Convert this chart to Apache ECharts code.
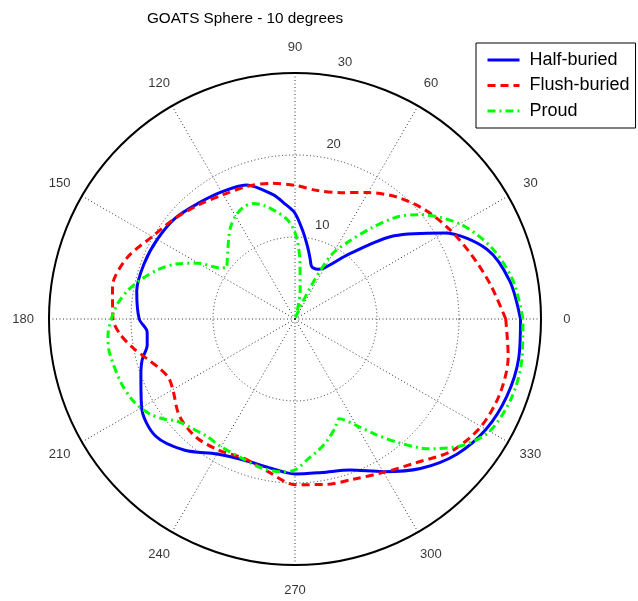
<!DOCTYPE html>
<html>
<head>
<meta charset="utf-8">
<script src="https://cdn.jsdelivr.net/npm/echarts@6/dist/echarts.min.js"></script>
<style>
html,body{margin:0;padding:0;background:#fff;}
#chart{width:638px;height:601px;}
</style>
</head>
<body>
<div id="chart"></div>
<script>
// ---- Data (angle in degrees, radius values) ----
const halfAngles = [0,10,20,30,40,50,60,65,70,73,76,80,85,90,95,100,110,120,130,140,150,160,170,180,185,190,195,200,210,220,230,240,250,260,270,280,290,300,310,320,330,340,350,360];
const halfR      = [27.5,26.6,24.9,21.0,15.8,10.4,7.2,6.7,6.6,6.8,7.6,8.9,10.8,12.9,14.1,15.4,17.4,17.9,18.4,19.1,19.4,19.6,19.6,19.0,18.1,18.3,19.3,20.0,21.6,22.2,20.9,19.0,18.3,18.4,18.9,19.0,19.6,21.5,23.8,25.7,26.9,27.5,27.7,27.5];

const flushAngles = [0,10,20,30,40,50,60,70,80,90,100,110,120,130,140,150,160,170,180,185,190,195,200,205,210,220,230,240,250,260,270,280,290,300,310,320,330,340,350,360];
const flushR      = [25.7,24.2,22.9,21.8,20.7,19.4,17.8,16.4,15.9,16.3,16.8,17.2,17.5,18.2,19.1,20.1,21.8,22.6,22.2,21.4,20.1,18.7,17.6,17.0,17.2,18.4,18.8,18.5,18.1,18.9,20.2,20.5,20.8,21.6,22.9,25.0,26.2,26.6,26.4,25.7];

const proudAngles = [0,10,20,30,40,45,50,55,60,62,64,66,68,71,75,80,85,88,91,95,100,105,110,115,120,125,130,135,140,143,146,150,155,160,165,170,175,180,185,190,200,207,213,217,221,227,233,240,250,257,265,270,276,280,285,290,294,300,305,310,316,323,330,340,350,360];
const proudR      = [27.8,27.0,25.5,23.2,19.8,17.6,14.5,11.6,9.3,7.2,4.4,2.1,0.6,0.0,1.2,3.6,6.9,9.4,11.0,12.3,13.3,14.3,15.0,15.0,14.5,13.7,12.6,11.6,10.8,10.4,11.2,13.6,15.9,17.7,19.2,20.6,21.7,22.4,22.9,23.0,22.6,22.1,21.2,20.2,19.0,18.3,17.9,18.0,18.2,18.6,18.7,18.4,17.0,16.3,15.3,14.2,13.3,15.0,17.2,19.7,22.8,25.6,27.4,28.1,28.1,27.8];

const angleTicks = [0,30,60,90,120,150,180,210,240,270,300,330];
const radiusTicks = [10,20,30];
const titleText = 'GOATS Sphere - 10 degrees';
const seriesNames = ['Half-buried','Flush-buried','Proud'];

// ---- Chart ----
const FONT = "'Liberation Sans', Arial, Helvetica, sans-serif";
const RMAX = 30;
const chart = echarts.init(document.getElementById('chart'), null, {renderer:'canvas'});

const pairs = (angles, rs) => angles.map((a,i) => [rs[i], a]);

const option = {
  animation: false,
  backgroundColor: '#fff',
  title: {
    text: titleText,
    left: 240, top: 6,
    textAlign: 'center',
    textStyle: {fontFamily: FONT, fontSize: 15.3, fontWeight: 'normal', color: '#000'}
  },
  legend: {
    data: seriesNames,
    orient: 'vertical',
    left: 476, top: 43,
    padding: [7, 6, 7, 10],
    itemWidth: 32, itemHeight: 14,
    itemGap: 5.5,
    itemTextGap: 11,
    itemStyle: {color: 'rgba(0,0,0,0)', borderWidth: 0, opacity: 0},
    lineStyle: {width: 3},
    backgroundColor: '#fff',
    borderColor: '#000', borderWidth: 1, borderRadius: 0,
    textStyle: {fontFamily: FONT, fontSize: 18, color: '#000', lineHeight: 20, padding: [0,0,0,5]}
  },
  polar: {center: [295, 319], radius: 246},
  angleAxis: {
    type: 'value', min: 0, max: 360, interval: 30,
    startAngle: 0, clockwise: false,
    axisLine: {show: true, lineStyle: {color: '#000', width: 2}},
    axisTick: {show: false},
    axisLabel: {show: false},
    splitLine: {show: true, lineStyle: {color: '#333', width: 1, type: [1, 2.5]}}
  },
  radiusAxis: {
    type: 'value', min: 0, max: RMAX, interval: 10,
    axisLine: {show: false}, axisTick: {show: false}, axisLabel: {show: false},
    splitLine: {show: true, lineStyle: {color: '#333', width: 1, type: [1, 2.5]}}
  },
  series: [
    {
      name: seriesNames[0], type: 'line', coordinateSystem: 'polar',
      data: pairs(halfAngles, halfR), symbol: 'none', showSymbol: false, smooth: 0.3,
      lineStyle: {color: '#0000ff', width: 3, type: 'solid'}, itemStyle: {color: '#0000ff'}
    },
    {
      name: seriesNames[1], type: 'line', coordinateSystem: 'polar',
      data: pairs(flushAngles, flushR), symbol: 'none', showSymbol: false, smooth: 0.3,
      lineStyle: {color: '#ff0000', width: 3, type: [8, 5]}, itemStyle: {color: '#ff0000'}
    },
    {
      name: seriesNames[2], type: 'line', coordinateSystem: 'polar',
      data: pairs(proudAngles, proudR), symbol: 'none', showSymbol: false, smooth: 0.3,
      lineStyle: {color: '#00ff00', width: 3, type: [8, 4, 2, 4]}, itemStyle: {color: '#00ff00'}
    },
    {
      name: 'angleLabels', type: 'scatter', coordinateSystem: 'polar', clip: false, silent: true,
      data: angleTicks.map(a => [RMAX * 1.105, a]),
      symbolSize: 1, itemStyle: {color: 'rgba(0,0,0,0)'},
      label: {show: true, position: 'inside', formatter: p => String(p.value[1]),
        fontFamily: FONT, fontSize: 13, color: '#000', align: 'center', verticalAlign: 'middle'}
    },
    {
      name: 'radiusLabels', type: 'scatter', coordinateSystem: 'polar', clip: false, silent: true,
      data: radiusTicks.map(r => [r + 0.5, 82]),
      symbolSize: 1, itemStyle: {color: 'rgba(0,0,0,0)'},
      label: {show: true, position: 'inside', offset: [8, -2],
        formatter: p => String(Math.round(p.value[0] - 0.5)),
        fontFamily: FONT, fontSize: 13, color: '#000', align: 'left', verticalAlign: 'bottom'}
    }
  ]
};
chart.setOption(option);
</script>
</body>
</html>
